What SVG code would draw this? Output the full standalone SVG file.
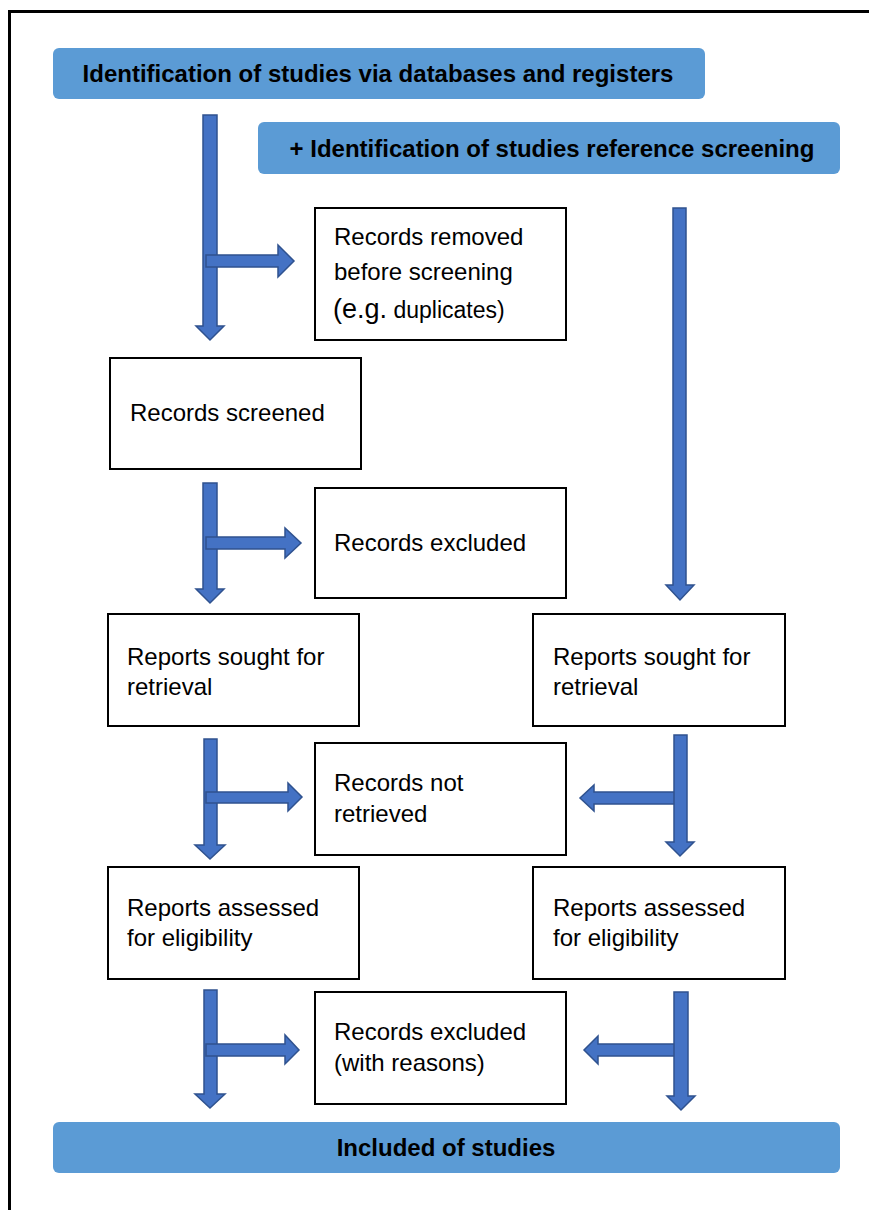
<svg xmlns="http://www.w3.org/2000/svg" width="869" height="1210" viewBox="0 0 869 1210">
<style>
.hdr{fill:#5B9BD5}
.box{fill:#fff;stroke:#000;stroke-width:2}
.t{font-family:"Liberation Sans",Arial,sans-serif;font-size:24px;fill:#000}
.b{font-family:"Liberation Sans",Arial,sans-serif;font-size:24px;font-weight:bold;fill:#000}
.arr{fill:#4472C4;stroke:#2F528F;stroke-width:1.5;stroke-linejoin:miter}
</style>
<rect x="0" y="0" width="869" height="1210" fill="#fff"/>
<rect x="9.5" y="11.5" width="900" height="1250" fill="none" stroke="#000" stroke-width="3"/>

<g id="hdr1">
<rect class="hdr" x="53" y="48" width="652" height="51" rx="6"/>
<text class="b" x="378" y="82" text-anchor="middle">Identification of studies via databases and registers</text>
</g>
<g id="hdr2">
<rect class="hdr" x="258" y="122" width="582" height="52" rx="6"/>
<text class="b" x="552" y="157" text-anchor="middle">+ Identification of studies reference screening</text>
</g>

<g id="removed">
<rect class="box" x="315" y="208" width="251" height="132"/>
<text class="t" x="334" y="245">Records removed</text>
<text class="t" x="334" y="280">before screening</text>
<text class="t" x="333" y="318"><tspan font-size="27">(e.g.</tspan><tspan font-size="23"> duplicates)</tspan></text>
</g>
<g id="screened">
<rect class="box" x="110" y="358" width="251" height="111"/>
<text class="t" x="130" y="421">Records screened</text>
</g>
<g id="excluded">
<rect class="box" x="315" y="488" width="251" height="110"/>
<text class="t" x="334" y="551">Records excluded</text>
</g>
<g id="sought-left">
<rect class="box" x="108" y="614" width="251" height="112"/>
<text class="t" x="127" y="665">Reports sought for</text>
<text class="t" x="127" y="695">retrieval</text>
</g>
<g id="sought-right">
<rect class="box" x="533" y="614" width="252" height="112"/>
<text class="t" x="553" y="665">Reports sought for</text>
<text class="t" x="553" y="695">retrieval</text>
</g>
<g id="notretrieved">
<rect class="box" x="315" y="743" width="251" height="112"/>
<text class="t" x="334" y="791">Records not</text>
<text class="t" x="334" y="822">retrieved</text>
</g>
<g id="assessed-left">
<rect class="box" x="108" y="867" width="251" height="112"/>
<text class="t" x="127" y="916">Reports assessed</text>
<text class="t" x="127" y="946">for eligibility</text>
</g>
<g id="assessed-right">
<rect class="box" x="533" y="867" width="252" height="112"/>
<text class="t" x="553" y="916">Reports assessed</text>
<text class="t" x="553" y="946">for eligibility</text>
</g>
<g id="excluded-reasons">
<rect class="box" x="315" y="992" width="251" height="112"/>
<text class="t" x="334" y="1040">Records excluded</text>
<text class="t" x="334" y="1071">(with reasons)</text>
</g>
<g id="included">
<rect class="hdr" x="53" y="1122" width="787" height="51" rx="6"/>
<text class="b" x="446" y="1156" text-anchor="middle">Included of studies</text>
</g>

<g id="connectors">
<!-- left arrow 1 -->
<polygon class="arr" points="203,115 217,115 217,326 224,326 210,340 196,326 203,326"/>
<polygon class="arr" points="206,255 278,255 278,245 294,261 278,277 278,267 206,267"/>
<!-- right long arrow -->
<polygon class="arr" points="673,208 686,208 686,585 694,585 680,600 666,585 673,585"/>
<!-- left arrow 2 -->
<polygon class="arr" points="203,483 217,483 217,589 224,589 210,603 196,589 203,589"/>
<polygon class="arr" points="206,537 285,537 285,528 301,543 285,558 285,549 206,549"/>
<!-- left arrow 3 -->
<polygon class="arr" points="204,739 217,739 217,845 225,845 210,859 195,845 204,845"/>
<polygon class="arr" points="206,792 288,792 288,783 302,797 288,811 288,803 206,803"/>
<!-- right arrow 3 -->
<polygon class="arr" points="677,792 594,792 594,785 580,798 594,811 594,804 677,804"/>
<polygon class="arr" points="674,735 687,735 687,842 694,842 680,856 666,842 674,842"/>
<!-- left arrow 4 -->
<polygon class="arr" points="204,990 217,990 217,1094 225,1094 210,1108 195,1094 204,1094"/>
<polygon class="arr" points="206,1044 285,1044 285,1035 299,1050 285,1064 285,1056 206,1056"/>
<!-- right arrow 4 -->
<polygon class="arr" points="677,1044 598,1044 598,1036 584,1050 598,1064 598,1056 677,1056"/>
<polygon class="arr" points="674,992 688,992 688,1096 695,1096 681,1110 667,1096 674,1096"/>
</g>
</svg>
